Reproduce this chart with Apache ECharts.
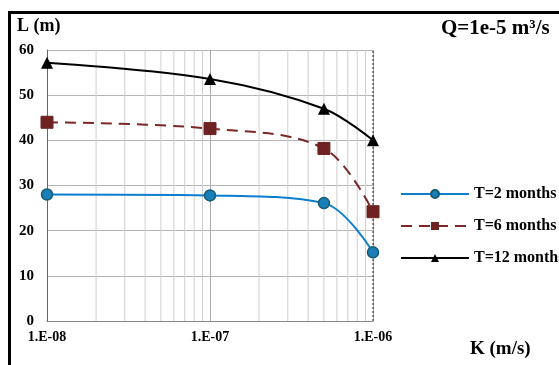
<!DOCTYPE html>
<html><head><meta charset="utf-8">
<script src="https://cdn.jsdelivr.net/npm/echarts@6/dist/echarts.min.js"></script>
<style>html,body{margin:0;padding:0;background:#fff}#c{width:559px;height:365px}</style>
</head><body><div id="c"></div>
<script>
var kValues = [1e-8, 1e-7, 5e-7, 1e-6];
var seriesNames = ['T=2 months', 'T=6 months', 'T=12 months'];
var t2 = [28, 27.8, 26.1, 15.2];
var t6 = [44, 42.6, 38.2, 24.2];
var t12 = [57.2, 53.6, 47.0, 40.0];
var minorGrid = [2e-8,3e-8,4e-8,5e-8,6e-8,7e-8,8e-8,9e-8,2e-7,3e-7,4e-7,5e-7,6e-7,7e-7,8e-7,9e-7];
var xTickLabels = {'-8':'1.E-08','-7':'1.E-07','-6':'1.E-06'};
var yMin = 0, yMax = 60, yStep = 10;

function pairs(vals){ return kValues.map(function(k,i){ return [k, vals[i]]; }); }
var serif = 'Liberation Serif';
var gridSeries = minorGrid.map(function(v){
  return {type:'line', name:'g'+v, data:[[v,yMin],[v,yMax]], symbol:'none', silent:true, z:1,
    lineStyle:{color:'#cfcfcf', width:1}};
});
gridSeries.push({type:'line', name:'edge', data:[[1e-6,yMin],[1e-6,yMax]], symbol:'none', silent:true, z:2,
    lineStyle:{color:'#222', width:1, type:[2,2]}});
var chart = echarts.init(document.getElementById('c'));
chart.setOption({
  animation: false,
  backgroundColor: '#fff',
  graphic: [
    {type:'rect', shape:{x:9.5,y:12.5,width:700,height:500}, style:{fill:'none',stroke:'#000',lineWidth:3}, z:100},
    {type:'text', left:17, top:17, style:{text:'L (m)', font:'bold 18px "Liberation Serif"', fill:'#000'}},
    {type:'text', left:441, top:18, style:{text:'Q=1e-5 m³/s', font:'bold 21px "Liberation Serif"', fill:'#000'}},
    {type:'text', left:470, top:340, style:{text:'K (m/s)', font:'bold 19px "Liberation Serif"', fill:'#000'}}
  ],
  grid: {left:47, right:186, top:50, bottom:44},
  legend: {
    orient:'vertical', left:395, top:181, itemWidth:68, itemHeight:10, itemGap:16, itemTextGap:5,
    data: seriesNames,
    textStyle:{fontFamily:serif, fontWeight:'bold', fontSize:16, color:'#000'}
  },
  xAxis: {
    type:'log', logBase:10, min:1e-8, max:1e-6,
    axisLine:{show:true, lineStyle:{color:'#888', width:1}},
    axisTick:{show:false},
    axisLabel:{margin:9, fontFamily:serif, fontWeight:'bold', fontSize:14, color:'#000',
      formatter:function(v){ var e=Math.round(Math.log10(v)); return xTickLabels[String(e)]||''; }},
    splitLine:{show:true, lineStyle:{color:'#aaa', width:1}}
  },
  yAxis: {
    type:'value', min:yMin, max:yMax, interval:yStep,
    axisLine:{show:true, lineStyle:{color:'#666', width:1}},
    axisTick:{show:false},
    axisLabel:{margin:13, fontFamily:serif, fontWeight:'bold', fontSize:15, color:'#000'},
    splitLine:{show:true, lineStyle:{color:'#b5b5b5', width:1}}
  },
  series: gridSeries.concat([
    {type:'line', name:seriesNames[0], data:pairs(t2), smooth:0.35, z:5,
     symbol:'circle', symbolSize:11,
     lineStyle:{color:'#0a7fd0', width:2},
     itemStyle:{color:'#1a7fb8', borderColor:'#145a70', borderWidth:1.5}},
    {type:'line', name:seriesNames[1], data:pairs(t6), smooth:0.35, z:5,
     symbol:'rect', symbolSize:12,
     lineStyle:{color:'#7b2727', width:2, type:[11,7]},
     itemStyle:{color:'#6e2222', borderColor:'#6e2222'}},
    {type:'line', name:seriesNames[2], data:pairs(t12), smooth:0.35, z:5,
     symbol:'triangle', symbolSize:12,
     lineStyle:{color:'#000', width:2},
     itemStyle:{color:'#000'}}
  ])
});
</script></body></html>
